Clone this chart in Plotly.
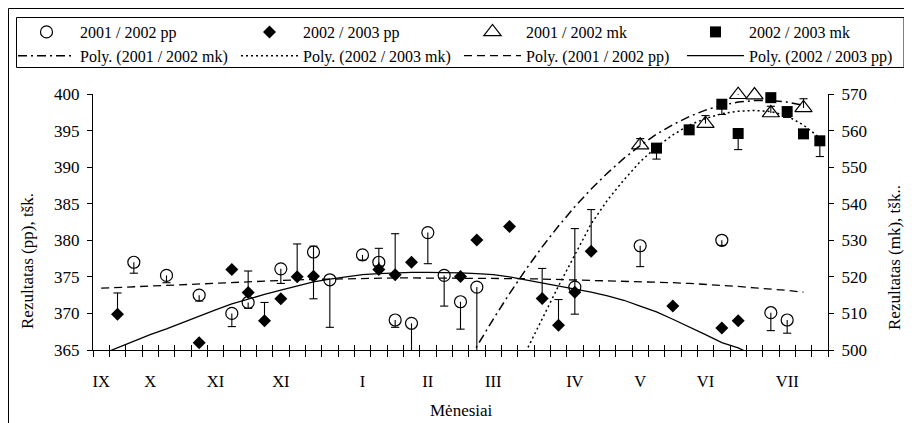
import plotly.graph_objects as go

FONT = "Liberation Serif, Times New Roman, serif"

# ---------------- data ----------------
month_positions = [0, 3, 7, 11, 16, 20, 24, 29, 33, 37, 42]
month_labels = ["IX", "X", "XI", "XI", "I", "II", "III", "IV", "V", "VI", "VII"]
n_categories = 45

# 2001 / 2002 pp  (open circles, error bars downward)
pp0102_cat = [2, 4, 6, 8, 9, 11, 13, 14, 16, 17, 18, 19, 20, 21, 22, 23, 29, 33, 38, 41, 42]
pp0102_val = [377.0, 375.2, 372.5, 370.0, 371.5, 376.1, 378.4, 374.6, 378.0, 377.0, 369.1,
              368.65, 381.05, 375.2, 371.6, 373.6, 373.6, 379.25, 380.0, 370.1, 369.1]
pp0102_err = [1.5, 1.0, 0.8, 1.8, 0.8, 2.0, 6.4, 6.5, 0.7, 0.5, 1.0,
              4.7, 4.25, 4.2, 3.75, 9.5, 3.7, 2.85, 0.7, 2.45, 1.8]

# 2002 / 2003 pp  (filled diamonds, error bars upward)
pp0203_cat = [1, 6, 8, 9, 10, 11, 12, 13, 17, 18, 19, 22, 23, 25, 27, 28, 29, 30, 35, 38, 39]
pp0203_val = [369.9, 366.0, 376.0, 372.85, 369.0, 372.0, 375.0, 375.1, 376.0, 375.3, 377.0,
              375.05, 380.05, 381.9, 372.05, 368.4, 372.9, 378.5, 371.0, 368.0, 369.0]
pp0203_err = [2.9, 0, 0, 2.95, 2.5, 0, 4.5, 4.1, 2.9, 5.6, 0,
              0, 0, 0, 4.1, 3.5, 8.7, 5.7, 0, 0, 0]

# 2001 / 2002 mk  (open triangles, error bars upward)
mk0102_cat = [33, 37, 39, 40, 41, 43]
mk0102_val = [556.0, 561.9, 569.8, 569.7, 564.8, 566.2]
mk0102_err = [1.8, 2.2, 1.8, 0, 1.85, 2.5]

# 2002 / 2003 mk  (filled squares, error bars downward)
mk0203_cat = [34, 36, 38, 39, 41, 42, 43, 44]
mk0203_val = [555.2, 560.2, 567.2, 559.2, 569.0, 565.2, 559.1, 557.2]
mk0203_err = [3.0, 0, 2.8, 4.4, 0, 1.6, 0, 4.3]

# polynomial trend lines (values read at category positions)
poly_mk0102_cat = list(range(22, 44))
poly_mk0102_val = [493.0, 501.0, 508.4, 515.4, 522.0, 528.2, 533.9, 539.2, 544.0, 548.4, 552.4,
                   555.9, 559.0, 561.6, 563.8, 565.6, 566.9, 567.8, 568.2, 568.2, 567.8, 566.9]

poly_mk0203_cat = list(range(25, 45))
poly_mk0203_val = [491.0, 499.5, 508.5, 517.5, 526.0, 534.5, 541.0, 546.5, 551.5, 555.5,
                   558.8, 561.5, 563.3, 564.6, 565.3, 565.5, 565.2, 564.0, 561.5, 558.0]

poly_pp0102_cat = list(range(0, 44))
poly_pp0102_val = [373.45, 373.55, 373.65, 373.8, 373.9, 374.0, 374.1, 374.2, 374.3, 374.4,
                   374.5, 374.55, 374.6, 374.65, 374.7, 374.75, 374.8, 374.8, 374.85, 374.85,
                   374.85, 374.85, 374.85, 374.85, 374.8, 374.8, 374.75, 374.7, 374.65, 374.6,
                   374.5, 374.45, 374.4, 374.35, 374.3, 374.2, 374.1, 374.0, 373.85, 373.7,
                   373.5, 373.35, 373.15, 372.9]

poly_pp0203_cat = list(range(0, 41))
poly_pp0203_val = [364.4, 365.3, 366.3, 367.1, 367.9, 368.8, 369.7, 370.5, 371.3, 372.0,
                   372.6, 373.2, 373.8, 374.3, 374.7, 375.0, 375.3, 375.45, 375.55, 375.6,
                   375.6, 375.6, 375.55, 375.45, 375.3, 375.0, 374.6, 374.2, 373.8, 373.4,
                   372.9, 372.4, 371.8, 371.0, 370.2, 369.2, 368.2, 367.1, 366.0, 365.3, 364.2]

# ---------------- layout geometry ----------------
# The page body has an 8 px margin, so the figure is 8 px smaller than the window
# and all window-pixel positions below are shifted by that offset.
OFF = 8
W, H = 904, 415
ML, MR, MT, MB = 85, 84, 86, 73
PW, PH = W - ML - MR, H - MT - MB


def paper_x(px):
    return (px - OFF - ML) / PW


def paper_y(py):
    return (H - MB - (py - OFF)) / PH


def cont_x(px):
    return (px - OFF) / W


def cont_y(py):
    return 1 - (py - OFF) / H


CAP = 0.25  # half width of error-bar caps, in category units


def cap_segments(cats, vals, errs, sign):
    xs, ys = [], []
    for c, v, e in zip(cats, vals, errs):
        if e <= 0:
            continue
        end = v + sign * e
        xs += [c - CAP, c + CAP, None]
        ys += [end, end, None]
    return xs, ys


fig = go.Figure()

# trend lines
fig.add_trace(go.Scatter(x=poly_mk0102_cat, y=poly_mk0102_val, yaxis="y2", mode="lines",
                         line=dict(color="black", width=1.5, dash="9px,4px,2px,4px"),
                         name="Poly. (2001 / 2002 mk)", legend="legend", legendrank=2,
                         hoverinfo="skip"))
fig.add_trace(go.Scatter(x=poly_mk0203_cat, y=poly_mk0203_val, yaxis="y2", mode="lines",
                         line=dict(color="black", width=1.5, dash="2px,3px"),
                         name="Poly. (2002 / 2003 mk)", legend="legend2", legendrank=2,
                         hoverinfo="skip"))
fig.add_trace(go.Scatter(x=poly_pp0102_cat, y=poly_pp0102_val, mode="lines",
                         line=dict(color="black", width=1.3, dash="8px,5px"),
                         name="Poly. (2001 / 2002 pp)", legend="legend3", legendrank=2,
                         hoverinfo="skip"))
fig.add_trace(go.Scatter(x=poly_pp0203_cat, y=poly_pp0203_val, mode="lines",
                         line=dict(color="black", width=1.3),
                         name="Poly. (2002 / 2003 pp)", legend="legend4", legendrank=2,
                         hoverinfo="skip"))

# error bars: vertical stems (not clipped, as in the original) + caps
for cats, vals, errs, sign, ax in [
    (pp0102_cat, pp0102_val, pp0102_err, -1, "y"),
    (pp0203_cat, pp0203_val, pp0203_err, 1, "y"),
    (mk0102_cat, mk0102_val, mk0102_err, 1, "y2"),
    (mk0203_cat, mk0203_val, mk0203_err, -1, "y2"),
]:
    plus = errs if sign > 0 else [0] * len(errs)
    minus = errs if sign < 0 else [0] * len(errs)
    fig.add_trace(go.Scatter(x=cats, y=vals, yaxis=ax, mode="markers",
                             marker=dict(size=1, color="rgba(0,0,0,0)"),
                             error_y=dict(type="data", symmetric=False, array=plus,
                                          arrayminus=minus, width=0, thickness=1.1,
                                          color="black"),
                             cliponaxis=False, showlegend=False, hoverinfo="skip"))
    cx, cy = cap_segments(cats, vals, errs, sign)
    fig.add_trace(go.Scatter(x=cx, y=cy, yaxis=ax, mode="lines",
                             line=dict(color="black", width=1.1),
                             showlegend=False, hoverinfo="skip"))

# markers
fig.add_trace(go.Scatter(x=pp0102_cat, y=pp0102_val, mode="markers", name="2001 / 2002 pp",
                         marker=dict(symbol="circle-open", size=12, color="black",
                                     line=dict(width=1.2, color="black")),
                         cliponaxis=False, legend="legend", legendrank=1))
fig.add_trace(go.Scatter(x=pp0203_cat, y=pp0203_val, mode="markers", name="2002 / 2003 pp",
                         marker=dict(symbol="diamond", size=10, color="black"),
                         cliponaxis=False, legend="legend2", legendrank=1))
fig.add_trace(go.Scatter(x=mk0102_cat, y=mk0102_val, yaxis="y2", mode="markers",
                         name="2001 / 2002 mk",
                         marker=dict(symbol="triangle-up-open", size=15, color="black",
                                     line=dict(width=1.2, color="black")),
                         cliponaxis=False, legend="legend3", legendrank=1))
fig.add_trace(go.Scatter(x=mk0203_cat, y=mk0203_val, yaxis="y2", mode="markers",
                         name="2002 / 2003 mk",
                         marker=dict(symbol="square", size=11, color="black"),
                         cliponaxis=False, legend="legend4", legendrank=1))

# empty traces so that the overlay tick axes exist
fig.add_trace(go.Scatter(x=[], y=[], xaxis="x2", showlegend=False, hoverinfo="skip"))
fig.add_trace(go.Scatter(x=[], y=[], xaxis="x3", showlegend=False, hoverinfo="skip"))

xr = [-0.5, n_categories - 0.5]
boundaries = [i - 0.5 for i in range(n_categories + 1)]
tickfont = dict(family=FONT, size=17, color="black")

legend_common = dict(
    orientation="v", xref="container", yref="container", xanchor="left", yanchor="top",
    font=dict(family=FONT, size=16, color="black"), bgcolor="rgba(0,0,0,0)",
    borderwidth=0, itemwidth=57, tracegroupgap=0, itemclick=False, itemdoubleclick=False,
)
legend_left_px = [13, 236, 459, 682]
legend_top_px = 15

fig.update_layout(
    width=W, height=H,
    margin=dict(l=ML, r=MR, t=MT, b=MB, autoexpand=False),
    paper_bgcolor="white", plot_bgcolor="white",
    font=dict(family=FONT, color="black"),
    xaxis=dict(range=xr, tickmode="array", tickvals=boundaries, ticks="outside", ticklen=6,
               tickcolor="black", tickwidth=1, showticklabels=False, showgrid=False,
               zeroline=False, showline=True, linecolor="black", linewidth=1),
    xaxis2=dict(range=xr, overlaying="x", anchor="y", tickmode="array", tickvals=boundaries,
                ticks="inside", ticklen=5, tickcolor="black", tickwidth=1,
                showticklabels=False, showgrid=False, zeroline=False, showline=False),
    xaxis3=dict(range=xr, overlaying="x", anchor="y", tickmode="array",
                tickvals=month_positions, ticktext=month_labels, ticks="",
                ticklabelstandoff=19, tickfont=dict(family=FONT, size=16.5, color="black"),
                showgrid=False, zeroline=False, showline=False),
    yaxis=dict(range=[365, 400], tickmode="linear", tick0=365, dtick=5, ticks="outside",
               ticklen=5, tickcolor="black", showgrid=False, zeroline=False, showline=True,
               linecolor="black", linewidth=1, tickfont=tickfont, ticklabelstandoff=4),
    yaxis2=dict(range=[500, 570], tickmode="linear", tick0=500, dtick=10, overlaying="y",
                side="right", anchor="x", ticks="outside", ticklen=5, tickcolor="black",
                showgrid=False, zeroline=False, showline=True, linecolor="black",
                linewidth=1, tickfont=tickfont, ticklabelstandoff=4),
    showlegend=True,
    legend=dict(legend_common, x=cont_x(legend_left_px[0]), y=cont_y(legend_top_px)),
    legend2=dict(legend_common, x=cont_x(legend_left_px[1]), y=cont_y(legend_top_px)),
    legend3=dict(legend_common, x=cont_x(legend_left_px[2]), y=cont_y(legend_top_px)),
    legend4=dict(legend_common, x=cont_x(legend_left_px[3]), y=cont_y(legend_top_px)),
)

# axis titles
fig.add_annotation(text="Rezultatas (pp), tšk.", xref="paper", yref="paper",
                   x=paper_x(27), y=paper_y(261), textangle=-90, showarrow=False,
                   font=dict(family=FONT, size=17, color="black"),
                   xanchor="center", yanchor="middle")
fig.add_annotation(text="Rezultatas (mk), tšk..", xref="paper", yref="paper",
                   x=paper_x(894), y=paper_y(258), textangle=-90, showarrow=False,
                   font=dict(family=FONT, size=17, color="black"),
                   xanchor="center", yanchor="middle")
fig.add_annotation(text="Mėnesiai", xref="paper", yref="paper",
                   x=paper_x(461), y=paper_y(410), showarrow=False,
                   font=dict(family=FONT, size=17, color="black"),
                   xanchor="center", yanchor="middle")

# chart-area border and legend box
fig.add_shape(type="rect", xref="paper", yref="paper",
              x0=paper_x(8.5), x1=paper_x(930), y0=paper_y(440), y1=paper_y(8.5),
              line=dict(color="black", width=1), fillcolor="rgba(0,0,0,0)", layer="below")
fig.add_shape(type="rect", xref="paper", yref="paper",
              x0=paper_x(16.5), x1=paper_x(904), y0=paper_y(67.5), y1=paper_y(17.5),
              line=dict(color="black", width=1), fillcolor="rgba(0,0,0,0)", layer="below")

fig.write_html("out.html")
